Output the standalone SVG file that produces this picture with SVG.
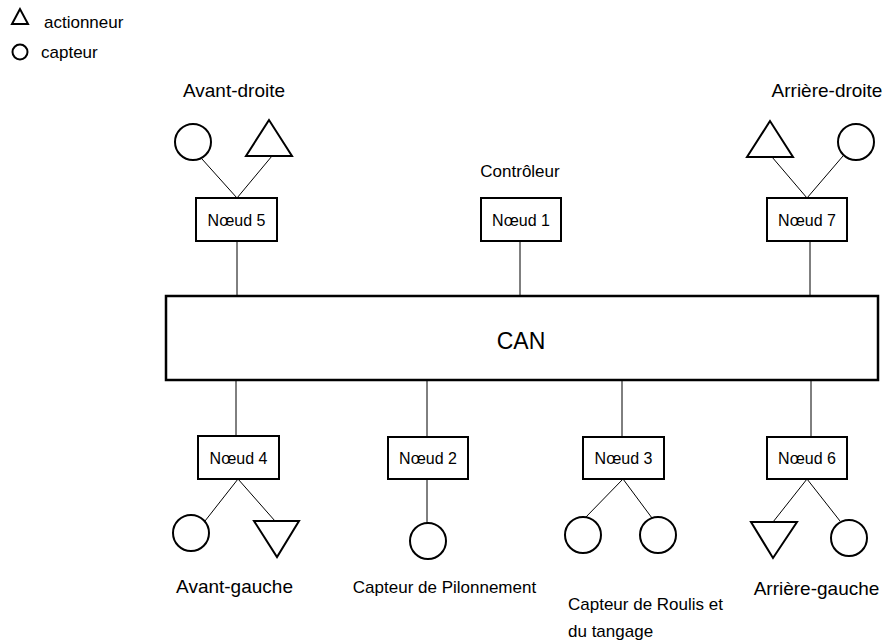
<svg xmlns="http://www.w3.org/2000/svg" width="894" height="642" viewBox="0 0 894 642">
<style>
text{font-family:"Liberation Sans",Arial,sans-serif;fill:#000}
.shape{fill:#fff;stroke:#000;stroke-width:2}
.box{fill:#fff;stroke:#000;stroke-width:2}
.bus{fill:#fff;stroke:#000;stroke-width:2.5}
.conn line{stroke:#000;stroke-width:1}
.lbl{font-size:19px;text-anchor:middle}
.nd{font-size:16px;text-anchor:middle}
.sm{font-size:17px}
</style>
<rect width="894" height="642" fill="#fff"/>
<g id="legend">
<polygon class="shape" points="20,9 12,24 28,24"/>
<text x="44" y="28" font-size="17">actionneur</text>
<circle class="shape" cx="20" cy="52" r="7.5"/>
<text x="41" y="58" font-size="17">capteur</text>
</g>
<g class="conn" id="connectors">
<line x1="237" y1="241" x2="237" y2="296"/>
<line x1="520" y1="241" x2="520" y2="296"/>
<line x1="810" y1="241" x2="810" y2="296"/>
<line x1="236" y1="380" x2="236" y2="436"/>
<line x1="427" y1="380" x2="427" y2="437"/>
<line x1="622" y1="380" x2="622" y2="437"/>
<line x1="811" y1="380" x2="811" y2="437"/>
<line x1="237" y1="198" x2="202" y2="159"/>
<line x1="237" y1="198" x2="272" y2="156"/>
<line x1="807" y1="198" x2="772" y2="157"/>
<line x1="807" y1="198" x2="843" y2="156"/>
<line x1="238" y1="479" x2="205" y2="521"/>
<line x1="238" y1="479" x2="275" y2="521"/>
<line x1="427" y1="479" x2="427" y2="523"/>
<line x1="623" y1="479" x2="585" y2="518"/>
<line x1="623" y1="479" x2="652" y2="518"/>
<line x1="807" y1="479" x2="773" y2="522"/>
<line x1="807" y1="479" x2="840" y2="521"/>
</g>
<g id="can">
<rect class="bus" x="166" y="296" width="712" height="84"/>
<text x="521" y="349" font-size="23" text-anchor="middle">CAN</text>
</g>
<g id="avant-droite">
<text class="lbl" x="234" y="97">Avant-droite</text>
<circle class="shape" cx="193" cy="142" r="18"/>
<polygon class="shape" points="269,120 246,156 292,156"/>
</g>
<g id="noeud5">
<rect class="box" x="196" y="198" width="81" height="43"/>
<text class="nd" x="236.5" y="226">Nœud 5</text>
</g>
<g id="noeud1">
<text class="sm" x="520" y="177" text-anchor="middle">Contrôleur</text>
<rect class="box" x="481" y="198" width="80" height="43"/>
<text class="nd" x="521" y="226">Nœud 1</text>
</g>
<g id="arriere-droite">
<text class="lbl" x="827" y="97">Arrière-droite</text>
<polygon class="shape" points="770,121 747,157 793,157"/>
<circle class="shape" cx="856" cy="142" r="18"/>
</g>
<g id="noeud7">
<rect class="box" x="767" y="198" width="80" height="43"/>
<text class="nd" x="807" y="226">Nœud 7</text>
</g>
<g id="noeud4">
<rect class="box" x="198" y="436" width="81" height="43"/>
<text class="nd" x="238.5" y="464">Nœud 4</text>
</g>
<g id="avant-gauche">
<circle class="shape" cx="191" cy="533" r="18"/>
<polygon class="shape" points="254,521 299,521 277,557"/>
<text class="lbl" x="234.5" y="593">Avant-gauche</text>
</g>
<g id="noeud2">
<rect class="box" x="388" y="437" width="80" height="42"/>
<text class="nd" x="428" y="464">Nœud 2</text>
<circle class="shape" cx="428" cy="541" r="18"/>
<text class="sm" x="444.5" y="593" text-anchor="middle">Capteur de Pilonnement</text>
</g>
<g id="noeud3">
<rect class="box" x="583" y="437" width="81" height="42"/>
<text class="nd" x="623.5" y="464">Nœud 3</text>
<circle class="shape" cx="583" cy="535" r="18"/>
<circle class="shape" cx="658" cy="535" r="18"/>
<text class="sm" x="568" y="610">Capteur de Roulis et</text>
<text class="sm" x="568" y="637">du tangage</text>
</g>
<g id="noeud6">
<rect class="box" x="767" y="437" width="80" height="42"/>
<text class="nd" x="807" y="464">Nœud 6</text>
</g>
<g id="arriere-gauche">
<polygon class="shape" points="751,522 797,522 773,558"/>
<circle class="shape" cx="849" cy="538" r="18"/>
<text class="lbl" x="816.5" y="595">Arrière-gauche</text>
</g>
</svg>
